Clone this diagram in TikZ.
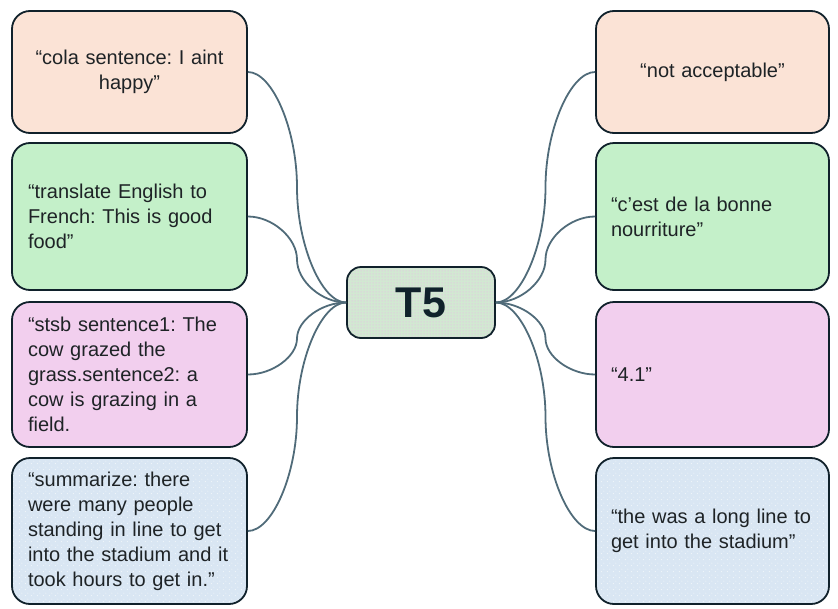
\documentclass[tikz,border=0pt]{standalone}
\usepackage{fontspec}
\setmainfont{Liberation Sans}
\usetikzlibrary{calc,patterns.meta}
\definecolor{peach}{HTML}{FBE3D6}
\definecolor{mint}{HTML}{C4F0C9}
\definecolor{pinkf}{HTML}{F2CFEE}
\definecolor{bluef}{HTML}{D9E6F3}
\definecolor{edgec}{HTML}{10212B}
\definecolor{conn}{HTML}{506B79}
\definecolor{txt}{HTML}{1E2326}
\definecolor{cgreen}{HTML}{D2E8D2}
\definecolor{cpink}{HTML}{E8BEE4}
\tikzdeclarepattern{name=sparsedots, type=uncolored, bottom left={(0pt,0pt)}, top right={(6pt,6pt)}, tile size={(6pt,6pt)}, code={\fill (1.5pt,1.5pt) circle (0.55pt); \fill (4.5pt,4.5pt) circle (0.55pt);}}
\tikzdeclarepattern{name=densedots, type=uncolored, bottom left={(0pt,0pt)}, top right={(3pt,3pt)}, tile size={(3pt,3pt)}, code={\fill (1.5pt,1.5pt) circle (0.8pt);}}
\frenchspacing
\begin{document}
\begin{tikzpicture}[x=1pt,y=-1pt,
  box/.style={draw=edgec, line width=1.8pt, rounded corners=18pt, text width=203pt, inner xsep=16pt, inner ysep=0pt, font=\fontsize{20}{25}\selectfont\frenchspacing, text=txt, align=left},
  rbox/.style={box, inner xsep=15pt},
  orangebox/.style={fill=peach},
  greenbox/.style={fill=mint},
  pinkbox/.style={fill=pinkf},
  bluebox/.style={preaction={fill=bluef}, pattern=sparsedots, pattern color=white},
  centerbox/.style={draw=edgec, line width=1.8pt, rounded corners=14pt, minimum width=148pt, minimum height=71pt, inner sep=0pt, preaction={fill=cgreen}, pattern=densedots, pattern color=cpink, font=\fontsize{43}{43}\selectfont\bfseries, text=edgec},
  con/.style={draw=conn, line width=1.8pt}]
\useasboundingbox (0,0) rectangle (838,608);
\node[centerbox] (c) at (421,302.5) {T5};
\node[box, orangebox, minimum height=122pt, align=center] (l1) at (129.5,72) {“cola sentence: I aint\\happy”};
\node[box, greenbox, minimum height=147pt] (l2) at (129.5,216.5) {“translate English to\\French: This is good\\food”};
\node[box, pinkbox, minimum height=145pt] (l3) at (129.5,374.5) {“stsb sentence1: The\\cow grazed the\\grass.sentence2: a\\cow is grazing in a\\field.};
\node[box, bluebox, minimum height=146pt] (l4) at (129.5,531) {“summarize: there\\were many people\\standing in line to get\\into the stadium and it\\took hours to get in.”};
\node[rbox, orangebox, minimum height=122pt, align=center] (r1) at (712.5,72) {“not acceptable”};
\node[rbox, greenbox, minimum height=147pt] (r2) at (712.5,216.5) {“c’est de la bonne\\nourriture”};
\node[rbox, pinkbox, minimum height=145pt] (r3) at (712.5,374.5) {“4.1”};
\node[rbox, bluebox, minimum height=146pt] (r4) at (712.5,531) {“the was a long line to\\get into the stadium”};
\foreach \a/\b in {l1.east/c.west, l2.east/c.west, l3.east/c.west, l4.east/c.west, c.east/r1.west, c.east/r2.west, c.east/r3.west, c.east/r4.west} {
  \coordinate (s) at (\a);
  \coordinate (e) at (\b);
  \coordinate (q1) at ($(s)!0.25!(e)$);
  \coordinate (q2) at ($(s)!0.5!(e)$);
  \coordinate (q3) at ($(s)!0.75!(e)$);
  \draw[con] (s) .. controls (q1 |- s) and (q2 |- q1) .. (q2) .. controls (q2 |- q3) and (q3 |- e) .. (e);
}
\end{tikzpicture}
\end{document}
